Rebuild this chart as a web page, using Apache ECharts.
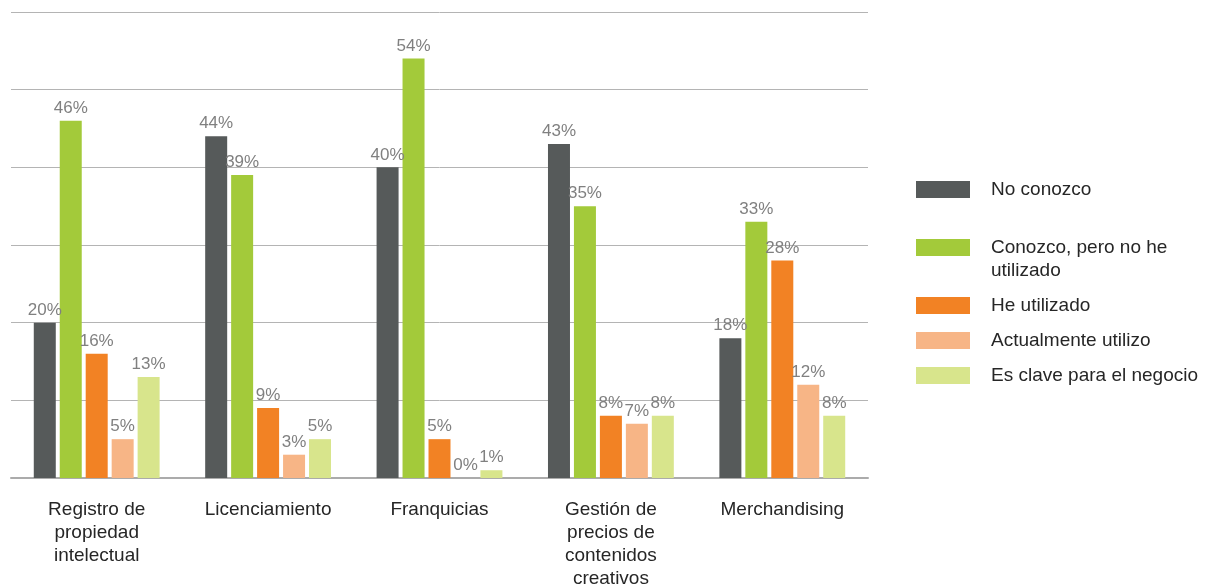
<!DOCTYPE html>
<html>
<head>
<meta charset="utf-8">
<script src="https://cdn.jsdelivr.net/npm/echarts@6/dist/echarts.min.js"></script>
<style>
html,body{margin:0;padding:0;background:#fff;}
#c{width:1208px;height:584px;}
</style>
</head>
<body>
<div id="c"></div>
<script>
const categories = ['Registro de propiedad intelectual', 'Licenciamiento', 'Franquicias', 'Gestión de precios de contenidos creativos', 'Merchandising'];
const seriesNames = ['No conozco', 'Conozco, pero no he utilizado', 'He utilizado', 'Actualmente utilizo', 'Es clave para el negocio'];
const noConozco = [20, 44, 40, 43, 18];
const conozcoNoUtilizado = [46, 39, 54, 35, 33];
const heUtilizado = [16, 9, 5, 8, 28];
const actualmenteUtilizo = [5, 3, 0, 7, 12];
const esClave = [13, 5, 1, 8, 8];
const colors = ['#565a5a', '#a3ca3a', '#f28224', '#f7b586', '#d8e58c'];

const values = [noConozco, conozcoNoUtilizado, heUtilizado, actualmenteUtilizo, esClave];
const font = 'Arial, "Liberation Sans", sans-serif';

function wrapWords(text, maxChars) {
  const words = text.split(' ');
  const lines = [];
  let cur = '';
  words.forEach(w => {
    if (!cur) cur = w;
    else if ((cur + ' ' + w).length <= maxChars) cur += ' ' + w;
    else { lines.push(cur); cur = w; }
  });
  if (cur) lines.push(cur);
  return lines.join('\n');
}

const chart = echarts.init(document.getElementById('c'));
chart.setOption({
  animation: false,
  textStyle: { fontFamily: font },
  grid: { left: 11, right: 340, top: 12, bottom: 106, containLabel: false, outerBoundsMode: 'none' },
  legend: {
    orient: 'vertical',
    left: 916,
    top: 178,
    padding: 0,
    itemWidth: 54,
    itemHeight: 17,
    itemGap: 12,
    icon: 'rect',
    selectedMode: false,
    data: seriesNames,
    formatter: function (name) {
      if (name === 'Conozco, pero no he utilizado') return '\nConozco, pero no he\nutilizado';
      return name;
    },
    textStyle: { fontSize: 19, color: '#262626', lineHeight: 23, fontFamily: font, padding: [0, 0, 0, 16] }
  },
  xAxis: {
    type: 'category',
    data: categories,
    axisTick: { show: false },
    axisLine: { show: true, lineStyle: { color: '#ababab', width: 2 } },
    axisLabel: {
      interval: 0,
      margin: 20,
      fontSize: 19,
      lineHeight: 23,
      color: '#262626',
      fontFamily: font,
      formatter: function (v) { return wrapWords(v, 12); }
    }
  },
  yAxis: {
    type: 'value',
    min: 0,
    max: 60,
    interval: 10,
    axisLabel: { show: false },
    axisLine: { show: false },
    axisTick: { show: false },
    splitLine: { lineStyle: { color: '#b4b4b4', width: 1 } }
  },
  series: seriesNames.map((n, i) => ({
    name: n,
    type: 'bar',
    data: values[i],
    barWidth: 22,
    barGap: '18%',
    itemStyle: { color: colors[i] },
    label: {
      show: true,
      position: 'top',
      distance: 4,
      formatter: '{c}%',
      fontSize: 17,
      color: '#808080',
      fontFamily: font
    }
  }))
});
</script>
</body>
</html>
